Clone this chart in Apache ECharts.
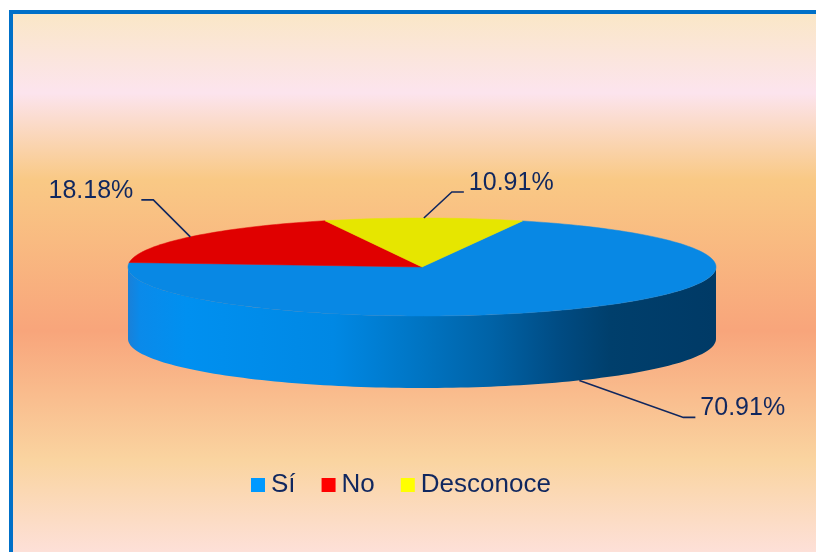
<!DOCTYPE html>
<html>
<head>
<meta charset="utf-8">
<script src="https://cdn.jsdelivr.net/npm/echarts@6/dist/echarts.min.js"></script>
<style>
html,body{margin:0;padding:0;background:#fff;}
#chart{width:816px;height:552px;}
</style>
</head>
<body>
<div id="chart"></div>
<script>
// ---- data ----
var categories = ['Sí', 'No', 'Desconoce'];
var values = [70.91, 18.18, 10.91];
var labelTexts = ['70.91%', '18.18%', '10.91%'];

// ---- styling / layout (not data) ----
var topColors = ['#0888e4', '#e00000', '#e6e600'];
var legendColors = ['#0099ff', '#ff0000', '#ffff00'];
var textColor = '#10275f';
var fontFam = '"Liberation Sans", Arial, sans-serif';
var geo = { cx: 422, cy: 267, rx: 294, ry: 49, depth: 72, startAngle: 70 };
var leader = [
  { dx: 104, dy: 37, dir: 1 },
  { dx: -37, dy: -37, dir: -1 },
  { dx: 28, dy: -26, dir: 1 }
];

var total = values.reduce(function (a, b) { return a + b; }, 0);
function sliceAngles(i) {
  var a0 = geo.startAngle;
  for (var k = 0; k < i; k++) a0 -= values[k] / total * 360;
  return [a0, a0 - values[i] / total * 360];
}
function pt(deg, dy) {
  var r = deg * Math.PI / 180;
  return [geo.cx + geo.rx * Math.cos(r), geo.cy - geo.ry * Math.sin(r) + (dy || 0)];
}
function arcPts(a0, a1, dy) {
  var n = Math.max(2, Math.ceil(Math.abs(a0 - a1) / 1.5));
  var out = [];
  for (var j = 0; j <= n; j++) out.push(pt(a0 + (a1 - a0) * j / n, dy));
  return out;
}

function makeRender(i) {
  return function (params, api) {
    var ang = sliceAngles(i);
    var a0 = ang[0], a1 = ang[1];
    var children = [];
    // side walls (front half only: angles where sin < 0)
    var fronts = [[0, -180], [360, 180], [-360, -540]];
    fronts.forEach(function (f) {
      var hi = Math.min(a0, f[0]), lo = Math.max(a1, f[1]);
      if (hi - lo > 0.01) {
        var topArc = arcPts(hi, lo, 0);
        var botArc = arcPts(lo, hi, geo.depth);
        children.push({
          type: 'polygon',
          z2: 1,
          shape: { points: topArc.concat(botArc) },
          style: {
            fill: {
              type: 'linear', global: true,
              x: geo.cx - geo.rx, y: 0, x2: geo.cx + geo.rx, y2: 0,
              colorStops: i === 0 ? [
                { offset: 0, color: '#1a80d8' },
                { offset: 0.02, color: '#0a8aea' },
                { offset: 0.1, color: '#0090f0' },
                { offset: 0.35, color: '#0088e4' },
                { offset: 0.5, color: '#0074c2' },
                { offset: 0.62, color: '#0062a6' },
                { offset: 0.73, color: '#004c84' },
                { offset: 0.82, color: '#003f6c' },
                { offset: 1, color: '#003a66' }
              ] : [
                { offset: 0, color: topColors[i] },
                { offset: 1, color: topColors[i] }
              ]
            }
          }
        });
      }
    });
    // top face
    var pts = [[geo.cx, geo.cy]].concat(arcPts(a0, a1, 0));
    children.push({
      type: 'polygon',
      z2: 5,
      shape: { points: pts },
      style: { fill: topColors[i], stroke: topColors[i], lineWidth: 0.5 }
    });
    // label with leader line
    var mid = (a0 + a1) / 2;
    var sinM = Math.sin(mid * Math.PI / 180);
    var anchor = pt(mid, sinM < 0 ? geo.depth : 0);
    var L = leader[i];
    var elbow = [anchor[0] + L.dx, anchor[1] + L.dy];
    var end = [elbow[0] + 12 * L.dir, elbow[1]];
    children.push({
      type: 'polyline',
      z2: 10,
      shape: { points: [anchor, elbow, end] },
      style: { stroke: textColor, lineWidth: 1.6, fill: null }
    });
    children.push({
      type: 'text',
      z2: 10,
      style: {
        text: labelTexts[i],
        x: end[0] + (L.dir > 0 ? 5 : -8),
        y: end[1] - 9,
        align: L.dir > 0 ? 'left' : 'right',
        verticalAlign: 'middle',
        fill: textColor,
        font: '25px ' + fontFam
      }
    });
    return { type: 'group', children: children };
  };
}

var series = categories.map(function (name, i) {
  return {
    type: 'custom',
    name: name,
    coordinateSystem: 'none',
    itemStyle: { color: legendColors[i] },
    data: [[values[i]]],
    renderItem: makeRender(i),
    silent: true,
    animation: false
  };
});

var chart = echarts.init(document.getElementById('chart'));
chart.setOption({
  backgroundColor: '#ffffff',
  animation: false,
  graphic: [{
    type: 'rect',
    z: -10,
    silent: true,
    shape: { x: 11, y: 12, width: 900, height: 700 },
    style: {
      fill: {
        type: 'linear', global: true, x: 0, y: 12, x2: 0, y2: 552,
        colorStops: [
          { offset: 0, color: '#fae7c6' },
          { offset: 0.15, color: '#fce4ee' },
          { offset: 0.31, color: '#f9c985' },
          { offset: 0.59, color: '#f8a57b' },
          { offset: 0.83, color: '#fad4a0' },
          { offset: 1, color: '#fde0d8' }
        ]
      },
      stroke: '#0070c8',
      lineWidth: 4
    }
  }],
  legend: {
    left: 246,
    top: 467,
    icon: 'rect',
    itemWidth: 14,
    itemHeight: 14,
    itemGap: 26,
    selectedMode: false,
    textStyle: { fontSize: 26, color: textColor, fontFamily: fontFam, padding: [0, 0, 0, 1] },
    data: categories.map(function (c, i) { return { name: c, itemStyle: { color: legendColors[i] } }; })
  },
  series: series
});
</script>
</body>
</html>
